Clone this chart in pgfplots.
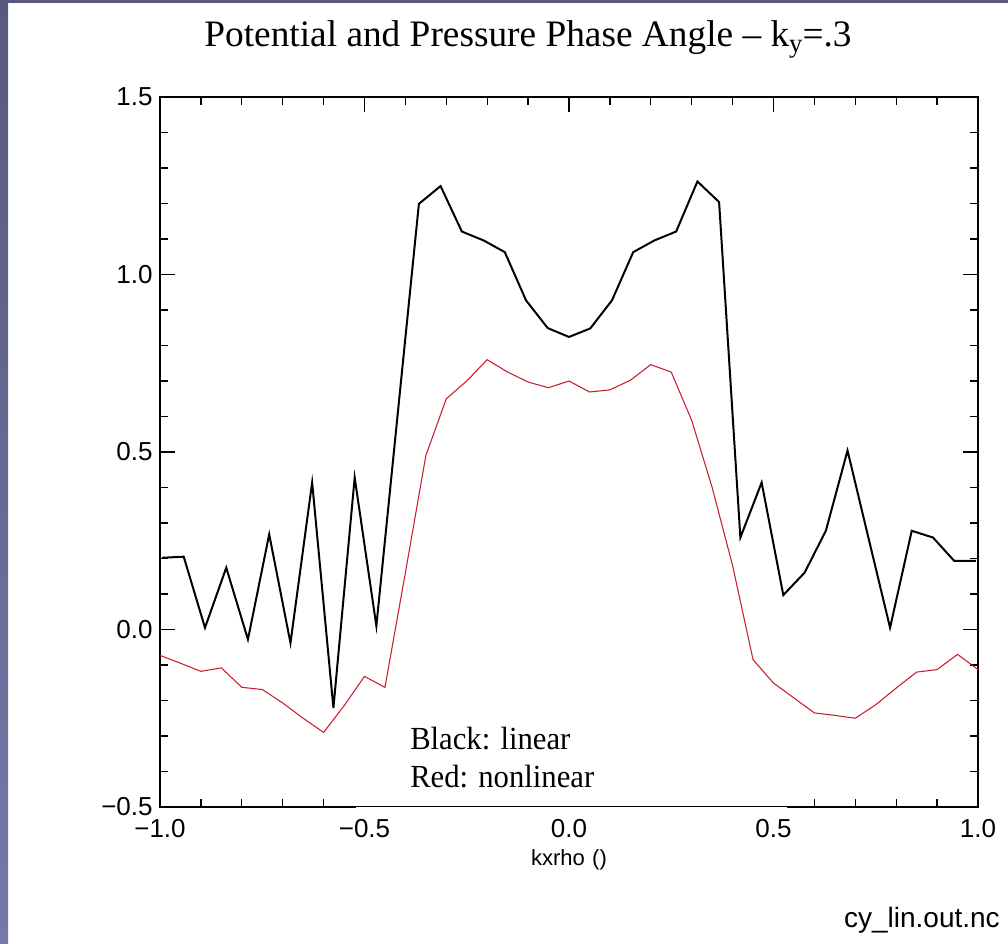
\documentclass[border=0pt]{standalone}
\usepackage{fontspec}
\setmainfont{Liberation Serif}
\setsansfont{Liberation Sans}
\usepackage{pgfplots}
\pgfplotsset{compat=1.18}
\definecolor{slidetop}{RGB}{88,88,128}
\definecolor{slidebot}{RGB}{120,120,168}
\definecolor{curvered}{RGB}{200,30,48}

\begin{document}
\begin{tikzpicture}
\useasboundingbox (0,0) rectangle (756pt,708pt);
\fill[white] (0,0) rectangle (756pt,708pt);
\shade[top color=slidetop, bottom color=slidebot] (0,0) rectangle (6pt,708pt);
\fill[slidetop] (0,705.75pt) rectangle (756pt,708pt);

\begin{axis}[
  at={(120pt,102.75pt)}, anchor=south west,
  width=613.5pt, height=532.5pt, scale only axis,
  xmin=-1, xmax=1, ymin=-0.5, ymax=1.5,
  xtick={-1,-0.5,0,0.5,1},
  xticklabels={−1.0,−0.5,0.0,0.5,1.0},
  ytick={-0.5,0,0.5,1,1.5},
  yticklabels={−0.5,0.0,0.5,1.0,1.5},
  minor x tick num=4, minor y tick num=4,
  tick align=inside,
  major tick length=11.25pt, minor tick length=6pt,
  every tick/.style={black, line width=1pt},
  axis line style={line width=1.2pt},
  ticklabel style={font=\sffamily\fontsize{19.5}{19.5}\selectfont},
  xticklabel style={yshift=-6pt},
  yticklabel style={xshift=-2pt},
]
\addplot[black, line width=1.5pt] coordinates {
(-0.995,0.202) (-0.942,0.205) (-0.890,0.005) (-0.838,0.174) (-0.785,-0.028)
(-0.733,0.268) (-0.681,-0.038) (-0.628,0.414) (-0.576,-0.221) (-0.524,0.428)
(-0.471,0.010) (-0.419,0.605) (-0.367,1.199) (-0.314,1.249) (-0.262,1.121)
(-0.209,1.096) (-0.157,1.063) (-0.105,0.927) (-0.052,0.849) (0.000,0.824)
(0.052,0.848) (0.105,0.927) (0.157,1.063) (0.209,1.096) (0.262,1.121)
(0.314,1.262) (0.367,1.204) (0.419,0.259) (0.471,0.414) (0.524,0.097)
(0.576,0.160) (0.628,0.278) (0.681,0.504) (0.733,0.254) (0.785,0.005)
(0.838,0.278) (0.890,0.259) (0.942,0.193) (0.995,0.193)
};
\addplot[curvered, line width=0.8pt] coordinates {
(-1.00,-0.073) (-0.95,-0.095) (-0.90,-0.118) (-0.85,-0.108) (-0.80,-0.163)
(-0.75,-0.169) (-0.70,-0.207) (-0.65,-0.250) (-0.60,-0.290) (-0.55,-0.215)
(-0.50,-0.132) (-0.45,-0.163) (-0.40,0.160) (-0.35,0.490) (-0.30,0.650)
(-0.25,0.700) (-0.20,0.760) (-0.15,0.725) (-0.10,0.697) (-0.05,0.681)
(0.00,0.700) (0.05,0.669) (0.10,0.675) (0.15,0.702) (0.20,0.746)
(0.25,0.725) (0.30,0.589) (0.35,0.400) (0.40,0.180) (0.45,-0.085)
(0.50,-0.151) (0.55,-0.193) (0.60,-0.235) (0.65,-0.242) (0.70,-0.250)
(0.75,-0.212) (0.80,-0.165) (0.85,-0.120) (0.90,-0.113) (0.95,-0.070)
(1.00,-0.113)
};
\coordinate (bl) at (axis cs:-0.521,-0.5);
\coordinate (br) at (axis cs:0.532,-0.5);
\end{axis}

\fill[white] ([yshift=-2pt]bl) rectangle ([yshift=14pt]br);
\draw[line width=0.75pt] (bl) -- (br);

\node[anchor=base west, inner sep=0pt, font=\fontsize{23}{23}\selectfont] at (307.5pt,145.5pt) {\scalebox{1}[1.05]{Black: linear}};
\node[anchor=base west, inner sep=0pt, font=\fontsize{23}{23}\selectfont] at (307.5pt,117pt) {\scalebox{1}[1.05]{Red: nonlinear}};
\node[anchor=base, inner sep=0pt, font=\fontsize{28}{28}\selectfont] at (396pt,673pt) {Potential and Pressure Phase Angle – k\raisebox{-0.35ex}{\fontsize{20}{20}\selectfont y}=.3};
\node[anchor=base, inner sep=0pt, font=\sffamily\fontsize{16.5}{16.5}\selectfont] at (426.75pt,59pt) {kxrho\,\,()};
\node[anchor=base east, inner sep=0pt, font=\sffamily\fontsize{21}{21}\selectfont] at (750pt,12pt) {cy\_lin.out.nc};
\end{tikzpicture}
\end{document}
